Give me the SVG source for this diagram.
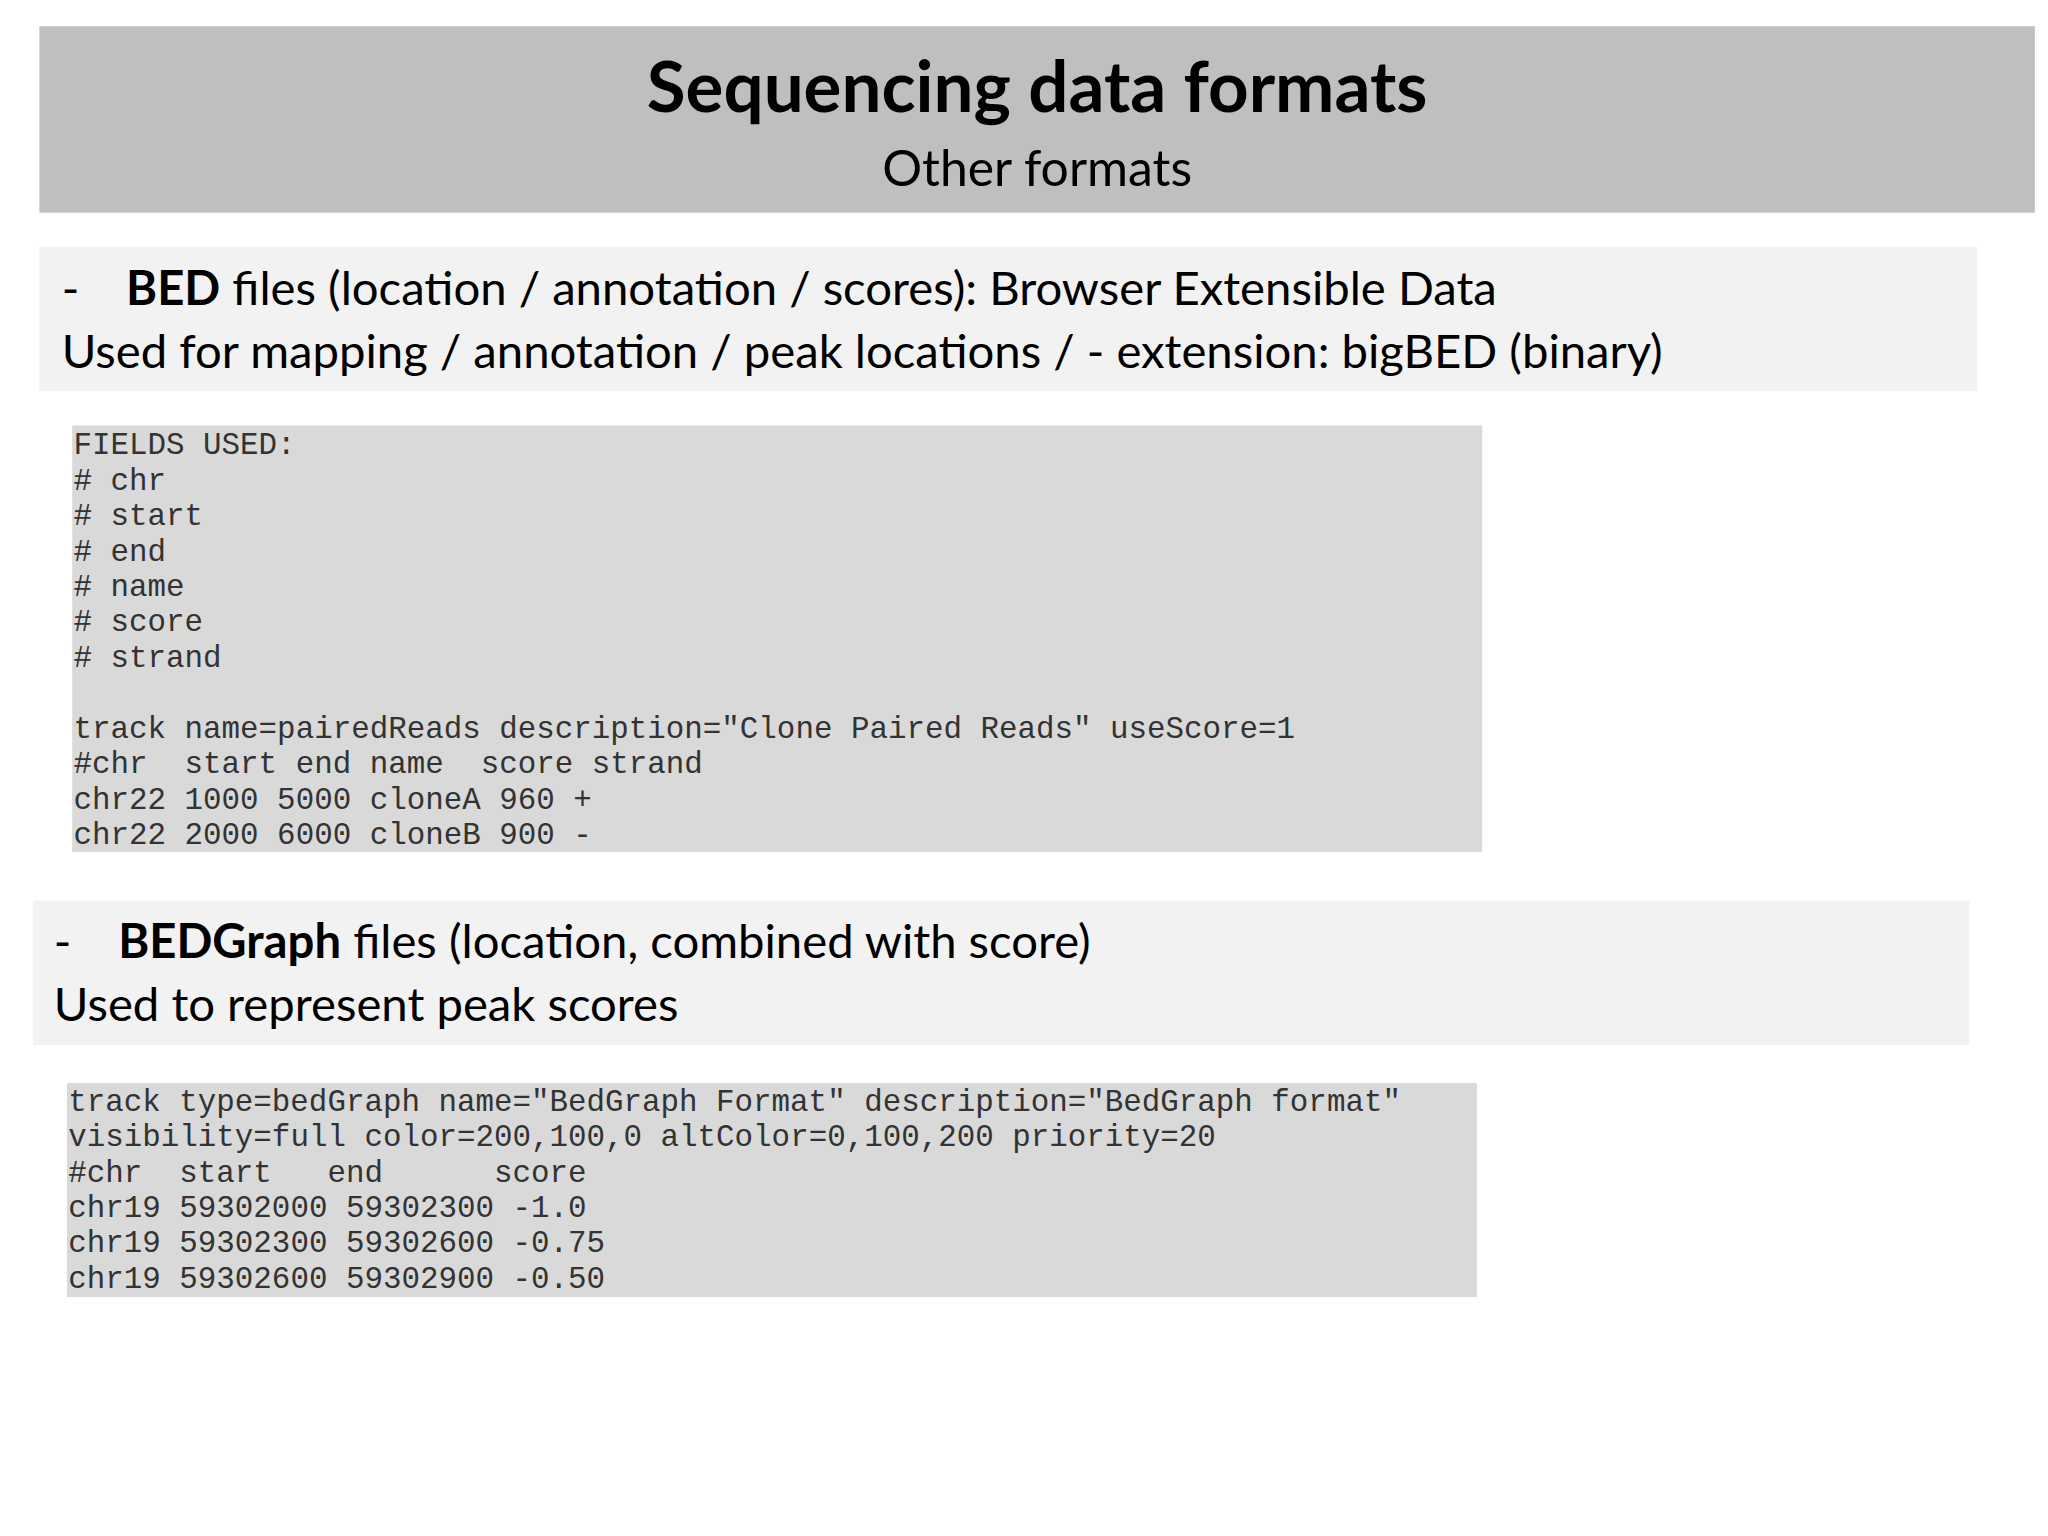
<svg xmlns="http://www.w3.org/2000/svg" width="2048" height="1536" viewBox="0 0 2048 1536">
<style>
.h{font-family:Lato,"Open Sans",sans-serif;fill:#000}
.b{font-family:Lato,"Open Sans",sans-serif;font-size:36px;fill:#000}
.m{font-family:"Liberation Mono","DejaVu Sans Mono",monospace;font-size:23.5px;fill:#333;white-space:pre}
</style>
<rect width="2048" height="1536" fill="#fff"/>
<g transform="scale(1.3128)">
<g id="header">
<rect x="30" y="20" width="1520" height="142" fill="#bfbfbf"/>
<text class="h" x="790" y="85" text-anchor="middle" font-size="54" font-weight="bold">Sequencing data formats</text>
<text class="h" x="790" y="142" text-anchor="middle" font-size="38">Other formats</text>
</g>
<g id="bed">
<rect x="30" y="188" width="1476" height="110" fill="#f2f2f2"/>
<text class="b" x="47" y="232">-</text>
<text class="b" x="96" y="232"><tspan font-weight="bold">BED</tspan> files (location / annotation / scores): Browser Extensible Data</text>
<text class="b" x="47" y="280">Used for mapping / annotation / peak locations / - extension: bigBED (binary)</text>
</g>
<g id="bed-code">
<rect x="55" y="324" width="1074" height="325" fill="#d9d9d9"/>
<text class="m" xml:space="preserve"><tspan x="56" y="346">FIELDS USED:</tspan><tspan x="56" y="373"># chr</tspan><tspan x="56" y="400"># start</tspan><tspan x="56" y="427"># end</tspan><tspan x="56" y="454"># name</tspan><tspan x="56" y="481"># score</tspan><tspan x="56" y="508"># strand</tspan><tspan x="56" y="562">track name=pairedReads description="Clone Paired Reads" useScore=1</tspan><tspan x="56" y="589">#chr  start end name  score strand</tspan><tspan x="56" y="616">chr22 1000 5000 cloneA 960 +</tspan><tspan x="56" y="643">chr22 2000 6000 cloneB 900 -</tspan></text>
</g>
<g id="bedgraph">
<rect x="25" y="686" width="1475" height="110" fill="#f2f2f2"/>
<text class="b" x="41" y="730">-</text>
<text class="b" x="90" y="730"><tspan font-weight="bold">BEDGraph</tspan> files (location, combined with score)</text>
<text class="b" x="41" y="778">Used to represent peak scores</text>
</g>
<g id="bedgraph-code">
<rect x="51" y="825" width="1074" height="163" fill="#d9d9d9"/>
<text class="m" xml:space="preserve"><tspan x="52" y="846">track type=bedGraph name="BedGraph Format" description="BedGraph format"</tspan><tspan x="52" y="873">visibility=full color=200,100,0 altColor=0,100,200 priority=20</tspan><tspan x="52" y="900">#chr  start   end      score</tspan><tspan x="52" y="927">chr19 59302000 59302300 -1.0</tspan><tspan x="52" y="954">chr19 59302300 59302600 -0.75</tspan><tspan x="52" y="981">chr19 59302600 59302900 -0.50</tspan></text>
</g>
<g id="connectors"/>
</g>
</svg>
